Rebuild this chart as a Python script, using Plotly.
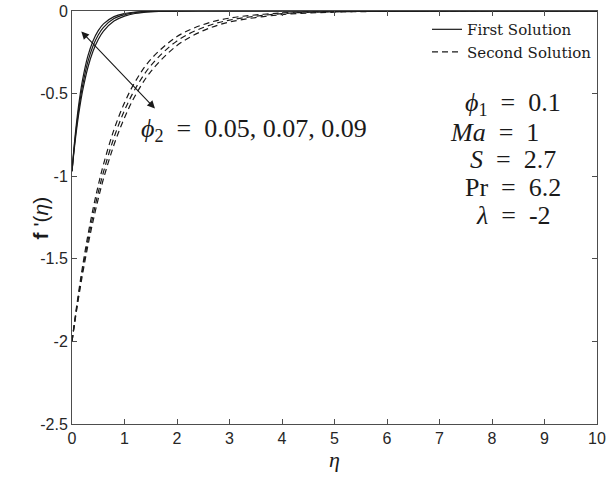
import plotly.graph_objects as go

# Values
eta = [0, 0.05, 0.1, 0.15, 0.2, 0.3, 0.4, 0.5, 0.6, 0.8, 1.0, 1.2, 1.5, 2.0,
       2.5, 3.0, 4.0, 5.0, 6.0, 7.0, 8.0, 9.0, 10.0]

# first solution, phi2 = 0.05, 0.07, 0.09
first_1 = [-0.97, -0.786, -0.637, -0.517, -0.419, -0.275, -0.181, -0.119, -0.078,
           -0.034, -0.015, -0.006, -0.002, 0, 0, 0, 0, 0, 0, 0, 0, 0, 0]
first_2 = [-0.97, -0.802, -0.663, -0.549, -0.454, -0.310, -0.212, -0.145, -0.099,
           -0.046, -0.022, -0.010, -0.003, -0.0005, 0, 0, 0, 0, 0, 0, 0, 0, 0]
first_3 = [-0.97, -0.816, -0.687, -0.578, -0.487, -0.345, -0.244, -0.173, -0.122,
           -0.061, -0.031, -0.015, -0.005, -0.001, 0, 0, 0, 0, 0, 0, 0, 0, 0]

# second solution
second_1 = [-2.0, -1.876, -1.760, -1.651, -1.548, -1.362, -1.199, -1.055, -0.928,
            -0.718, -0.556, -0.430, -0.293, -0.155, -0.082, -0.043, -0.012, -0.003,
            -0.001, 0, 0, 0, 0]
second_2 = [-2.0, -1.884, -1.774, -1.671, -1.573, -1.395, -1.238, -1.098, -0.974,
            -0.766, -0.602, -0.474, -0.331, -0.181, -0.100, -0.055, -0.016, -0.005,
            -0.0015, 0, 0, 0, 0]
second_3 = [-2.0, -1.890, -1.786, -1.688, -1.595, -1.425, -1.273, -1.137, -1.015,
            -0.810, -0.646, -0.515, -0.367, -0.209, -0.119, -0.067, -0.022, -0.007,
            -0.002, -0.001, 0, 0, 0]

x_ticks = [0, 1, 2, 3, 4, 5, 6, 7, 8, 9, 10]
y_ticks = [0, -0.5, -1, -1.5, -2, -2.5]

EQ = " \u00a0=\u00a0 "
params = ["<i>ϕ</i><sub>1</sub>" + EQ + "0.1", "<i>Ma</i>" + EQ + "1",
          "<i>S</i>" + EQ + "2.7", "Pr" + EQ + "6.2", "<i>λ</i>" + EQ + "-2"]

SERIF = "Liberation Serif, serif"
SANS = "Liberation Sans, Arial, sans-serif"
INK = "#1a1a1a"
AX = "#4d4d4d"

fig = go.Figure()
for i, ys in enumerate([first_1, first_2, first_3]):
    fig.add_trace(go.Scatter(x=eta, y=ys, mode="lines", name="First Solution",
                             line=dict(color=INK, width=1.2, shape="spline"),
                             showlegend=(i == 0)))
for i, ys in enumerate([second_1, second_2, second_3]):
    fig.add_trace(go.Scatter(x=eta, y=ys, mode="lines", name="Second Solution",
                             line=dict(color=INK, width=1.2, dash="6px,4px", shape="spline"),
                             showlegend=(i == 0)))

# double headed arrow for phi2
fig.add_annotation(x=1.58, y=-0.59, ax=0.15, ay=-0.115, xref="x", yref="y",
                   axref="x", ayref="y", text="", showarrow=True, arrowhead=2,
                   arrowside="end+start", arrowsize=1.4, arrowwidth=1.1, arrowcolor=INK)
fig.add_annotation(x=1.27, y=-0.72, xref="x", yref="y", xanchor="left",
                   text="<i>ϕ</i><sub>2</sub>" + EQ + "0.05, 0.07, 0.09", showarrow=False,
                   font=dict(family=SERIF, size=26, color=INK))

# parameter block, one line each
rows_y = [-0.56, -0.735, -0.9, -1.07, -1.235]
rows_x = [8.4, 8.05, 8.4, 8.4, 8.4]
for txt, px, py in zip(params, rows_x, rows_y):
    fig.add_annotation(x=px, y=py, xref="x", yref="y", text=txt, showarrow=False,
                       font=dict(family=SERIF, size=26, color=INK))

# y axis title as a rotated annotation so it sits where the reference has it
fig.add_annotation(x=-0.085, y=0.5, xref="paper", yref="paper", textangle=-90,
                   text="<b>f</b> '(<i>η</i>)", showarrow=False,
                   font=dict(family=SANS, size=21, color=INK))

axis_common = dict(showline=True, linecolor=AX, linewidth=1, mirror="ticks",
                   ticks="inside", ticklen=5, tickcolor=AX, showgrid=False,
                   zeroline=False, automargin=False,
                   tickfont=dict(family=SANS, size=16, color="#262626"))

fig.update_xaxes(range=[0, 10], tickvals=x_ticks, ticktext=[str(t) for t in x_ticks],
                 title=dict(text="<i>η</i>", font=dict(family=SERIF, size=22, color=INK),
                            standoff=5), **axis_common)
fig.update_yaxes(range=[-2.5, 0], tickvals=y_ticks, ticktext=[f"{t:g}" for t in y_ticks],
                 **axis_common)

fig.update_layout(
    width=606, height=477,
    paper_bgcolor="white", plot_bgcolor="white",
    margin=dict(l=72, r=9, t=11, b=53),
    legend=dict(x=1, y=0.995, xanchor="right", yanchor="top", bgcolor="rgba(0,0,0,0)",
                font=dict(family="DejaVu Serif, serif", size=15, color=INK),
                tracegroupgap=0),
)

# drop the browser's default body margin so the figure sits at the window origin
fig.write_html("out.html", config={"displayModeBar": False},
               post_script="document.body.style.margin='0';")
